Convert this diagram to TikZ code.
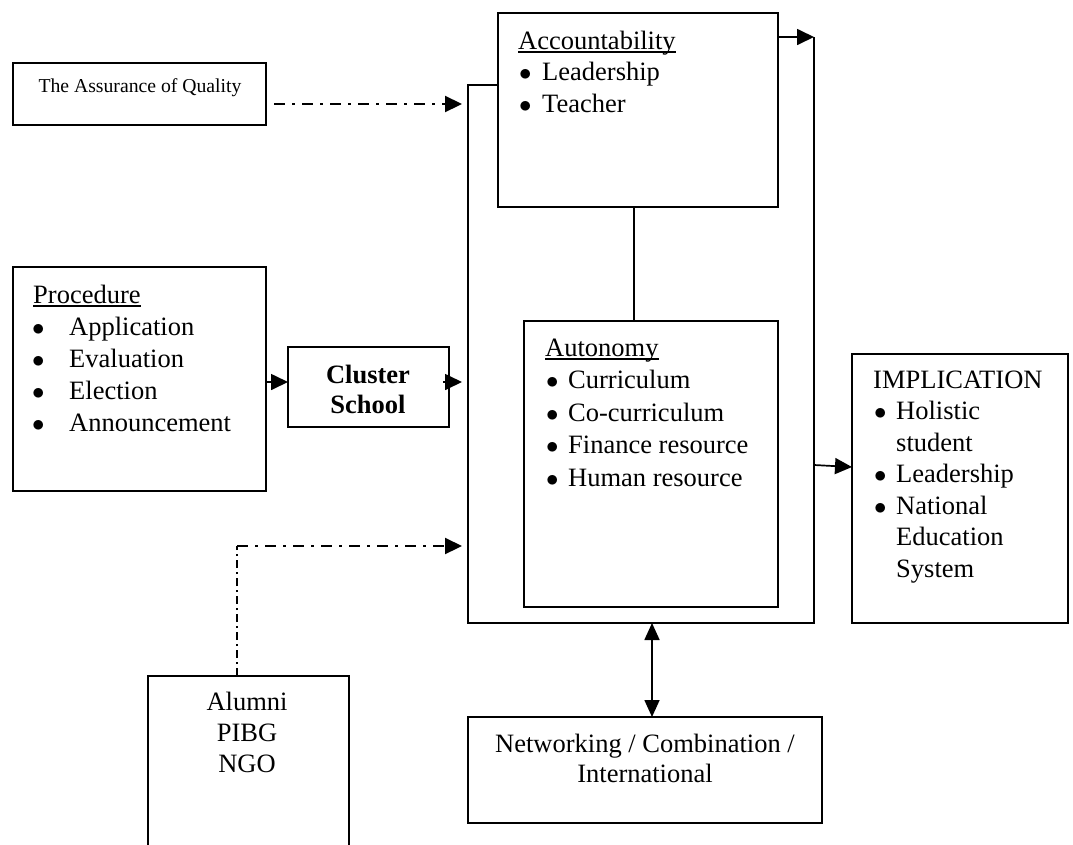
\documentclass[tikz,border=0pt]{standalone}
\usepackage{fontspec}
\setmainfont{Liberation Serif}
\usetikzlibrary{arrows.meta,calc}
\newcommand{\bul}[3]{\hbox{\hspace*{#1}\makebox[#2][l]{$\bullet$}#3}}
\newcommand{\ind}[2]{\hbox{\hspace*{#1}#2}}
\newcommand{\cen}[1]{\hbox to 0pt{\hss #1\hss}}
\newcommand{\ulin}[1]{\hbox{\setbox0\hbox{#1}\rlap{\rule[-3.5pt]{\wd0}{1.5pt}}\box0}}
\begin{document}
\begin{tikzpicture}[x=1pt,y=-1pt,
  box/.style={draw, line width=1.7pt, inner sep=0pt, outer sep=0pt, anchor=north west},
  txt/.style={inner sep=0pt, anchor=base west, font=\fontsize{26.5}{32}\selectfont},
  line/.style={line width=1.7pt},
  arr/.style={line width=1.7pt, -{Triangle[length=17pt,width=16pt]}},
  arrtwo/.style={line width=1.7pt, {Triangle[length=17pt,width=15pt]}-{Triangle[length=17pt,width=15pt]}},
  dd/.style={dash pattern=on 11pt off 7pt on 3pt off 7pt},
  ddthin/.style={line width=1.1pt, dash pattern=on 8pt off 4pt on 2pt off 4pt}]
\useasboundingbox[fill=white] (0,0) rectangle (1073,844);

% boxes
\node[box, minimum width=253pt, minimum height=62pt] (assure) at (13,63) {};
\node[box, minimum width=280pt, minimum height=194pt] (acc) at (498,13) {};
\node[box, minimum width=253pt, minimum height=224pt] (proc) at (13,267) {};
\node[box, minimum width=161pt, minimum height=80pt] (cluster) at (288,347) {};
\node[box, minimum width=254pt, minimum height=286pt] (auto) at (524,321) {};
\node[box, minimum width=216pt, minimum height=269pt] (impl) at (852,354) {};
\node[box, minimum width=354pt, minimum height=106pt] (netw) at (468,717) {};
\node[box, draw=none, minimum width=201pt, minimum height=190pt] (alumni) at (148,676) {};
\draw[line] (alumni.south west) -- (alumni.north west) -- (alumni.north east) -- (alumni.south east);

% texts
\node[inner sep=0pt, anchor=base, font=\fontsize{19.7}{24}\selectfont] (asstxt) at (140,92) {The Assurance of Quality};
\node[txt, font=\fontsize{26.5}{31.5}\selectfont] (acctxt) at (518,49)
  {\vtop{\ulin{Accountability}\bul{1pt}{23pt}{Leadership}\bul{1pt}{23pt}{Teacher}}};
\node[txt] (proctxt) at (33,303)
  {\vtop{\ulin{Procedure}\bul{-1pt}{37pt}{Application}\bul{-1pt}{37pt}{Evaluation}\bul{-1pt}{37pt}{Election}\bul{-1pt}{37pt}{Announcement}}};
\node[txt, anchor=base, font=\fontsize{26.5}{30}\selectfont\bfseries] (cltxt) at (368,383)
  {\vtop{\cen{Cluster}\cen{School}}};
\node[txt, font=\fontsize{26.5}{32.5}\selectfont] (autotxt) at (545,356)
  {\vtop{\ulin{Autonomy}\bul{1pt}{22pt}{Curriculum}\bul{1pt}{22pt}{Co-curriculum}\bul{1pt}{22pt}{Finance resource}\bul{1pt}{22pt}{Human resource}}};
\node[txt, font=\fontsize{26.5}{31.5}\selectfont] (impltxt) at (873,388)
  {\vtop{\hbox{IMPLICATION}\bul{1pt}{22pt}{Holistic}\ind{23pt}{student}\bul{1pt}{22pt}{Leadership}\bul{1pt}{22pt}{National}\ind{23pt}{Education}\ind{23pt}{System}}};
\node[txt, anchor=base, font=\fontsize{26.5}{31}\selectfont] (alutxt) at (247,710)
  {\vtop{\cen{Alumni}\cen{PIBG}\cen{NGO}}};
\node[txt, anchor=base, font=\fontsize{26.5}{30}\selectfont] (netwtxt) at (645,752)
  {\vtop{\cen{Networking / Combination /}\cen{International}}};

% frame
\coordinate (fTL) at (468,85);
\coordinate (fBL) at (468,623);
\coordinate (fBR) at (814,623);
\coordinate (fTR) at (814,37);
\draw[line] (acc.west |- fTL) -- (fTL) -- (fBL) -- (fBR) -- (fTR);

% connectors
\coordinate (in1) at (462,104);
\coordinate (in2) at (462,382);
\coordinate (in3) at (462,546);
\coordinate (ac) at (237,546);
\coordinate (o1) at (814,465);
\coordinate (nb) at (652,623);
\draw[arr, line width=2.2pt, dd] ($(assure.east |- in1)+(8,0)$) -- (in1);
\draw[arr] (proc.east |- in2) -- (cluster.west |- in2);
\draw[arr] ($(cluster.east |- in2)+(-6,0)$) -- (in2);
\draw[arr] (acc.east |- fTR) -- (fTR);
\draw[line] (acc.south -| 634,0) -- (auto.north -| 634,0);
\draw[arr] (o1) -- (impl.west |- 0,467);
\draw[arrtwo] (nb) -- (netw.north -| nb);
\draw[ddthin] (alumni.north -| ac) -- (ac);
\draw[arr, line width=2.2pt, dd] (ac) -- (in3);
\end{tikzpicture}
\end{document}
